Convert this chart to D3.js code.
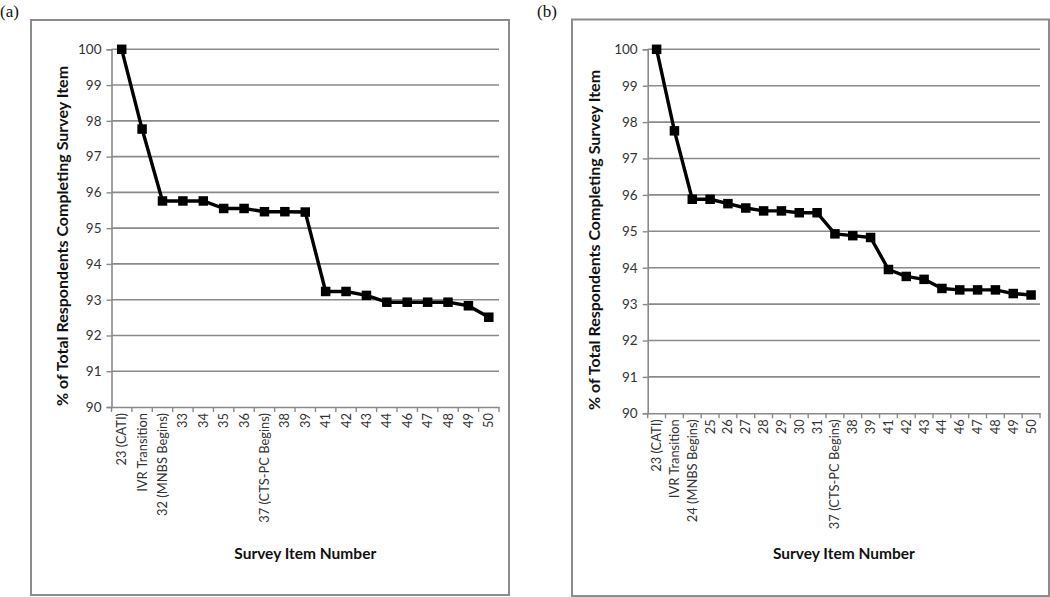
<!DOCTYPE html>
<html><head><meta charset="utf-8">
<script src="https://cdn.jsdelivr.net/npm/d3@7"></script>
<style>
html,body{margin:0;padding:0;background:#fff;}
svg{display:block;}
</style></head>
<body>
<svg id="c" width="1050" height="597"></svg>
<script>
const catsA = ["23 (CATI)","IVR Transition","32 (MNBS Begins)","33","34","35","36","37 (CTS-PC Begins)","38","39","41","42","43","44","46","47","48","49","50"];
const valsA = [100,97.77,95.76,95.76,95.76,95.55,95.55,95.46,95.46,95.45,93.23,93.23,93.12,92.93,92.93,92.93,92.93,92.83,92.51];
const catsB = ["23 (CATI)","IVR Transition","24 (MNBS Begins)","25","26","27","28","29","30","31","37 (CTS-PC Begins)","38","39","41","42","43","44","46","47","48","49","50"];
const valsB = [100,97.76,95.88,95.88,95.76,95.64,95.56,95.56,95.51,95.51,94.93,94.88,94.83,93.95,93.76,93.68,93.43,93.39,93.39,93.39,93.29,93.25];
const yTicks = [90,91,92,93,94,95,96,97,98,99,100];
const yTitle = "% of Total Respondents Completing Survey Item";
const xTitle = "Survey Item Number";
const panelLabels = ["(a)","(b)"];

const svg = d3.select("#c");
const FONT = "Lato, 'Open Sans', sans-serif";

function panel(cfg){
  const g = svg.append("g");
  g.append("rect").attr("x",cfg.frame[0]).attr("y",cfg.frame[1])
    .attr("width",cfg.frame[2]-cfg.frame[0]).attr("height",cfg.frame[3]-cfg.frame[1])
    .attr("fill","none").attr("stroke","#8c8c8c").attr("stroke-width",2);
  svg.append("text").attr("x",cfg.lab[0]).attr("y",cfg.lab[1])
    .attr("font-family","'Liberation Serif','DejaVu Serif',serif").attr("font-size",17)
    .attr("fill","#111").text(cfg.label);

  const x = d3.scaleBand().domain(cfg.cats).range([cfg.left,cfg.right]);
  const y = d3.scaleLinear().domain([90,100]).range([cfg.bottom,cfg.top]);

  g.append("g").selectAll("line").data(yTicks.filter(d=>d>90)).join("line")
    .attr("x1",cfg.left).attr("x2",cfg.right)
    .attr("y1",d=>y(d)).attr("y2",d=>y(d))
    .attr("stroke","#8a8a8a").attr("stroke-width",1.6);

  const ya = g.append("g").attr("transform",`translate(${cfg.left},0)`)
    .call(d3.axisLeft(y).tickValues(yTicks).tickSize(5).tickPadding(5).tickFormat(d3.format("d")));
  ya.select(".domain").attr("stroke","#8a8a8a").attr("stroke-width",1.6);
  ya.selectAll(".tick line").attr("stroke","#8a8a8a").attr("stroke-width",1.4);
  ya.selectAll("text").attr("font-family",FONT).attr("font-size",13.5).attr("fill","#333");

  const xa = g.append("g").attr("transform",`translate(0,${cfg.bottom})`)
    .call(d3.axisBottom(x).tickSize(0).tickPadding(0));
  xa.select(".domain").attr("stroke","#8a8a8a").attr("stroke-width",1.6);
  xa.selectAll(".tick text")
    .attr("font-family",FONT).attr("font-size",12.9).attr("fill","#333")
    .attr("transform","rotate(-90)")
    .attr("text-anchor","end").attr("dy","0.35em").attr("x",-6).attr("y",0);
  const bounds = cfg.cats.map(c=>x(c)).concat([cfg.right]);
  g.append("g").selectAll("line").data(bounds).join("line")
    .attr("x1",d=>d).attr("x2",d=>d).attr("y1",cfg.bottom).attr("y2",cfg.bottom+5)
    .attr("stroke","#8a8a8a").attr("stroke-width",1.4);

  const pts = cfg.cats.map((c,i)=>({c, v:cfg.vals[i]}));
  g.append("path").datum(pts)
    .attr("d", d3.line().x(d=>x(d.c)+x.bandwidth()/2).y(d=>y(d.v)))
    .attr("fill","none").attr("stroke","#000").attr("stroke-width",3.4).attr("stroke-linejoin","round");
  const s = 9.5;
  g.append("g").selectAll("rect").data(pts).join("rect")
    .attr("x",d=>x(d.c)+x.bandwidth()/2-s/2).attr("y",d=>y(d.v)-s/2)
    .attr("width",s).attr("height",s).attr("fill","#000");

  g.append("text").attr("transform",`translate(${cfg.ytx},${cfg.ytc}) rotate(-90)`)
    .attr("text-anchor","middle").attr("font-family",FONT).attr("font-weight","bold")
    .attr("font-size",16).attr("fill","#111").text(yTitle);
  g.append("text").attr("x",(cfg.left+cfg.right)/2).attr("y",559)
    .attr("text-anchor","middle").attr("font-family",FONT).attr("font-weight","bold")
    .attr("font-size",15.5).attr("fill","#111").text(xTitle);
}

panel({cats:catsA, vals:valsA, frame:[31,20,509,595], label:panelLabels[0], lab:[0,17],
  left:111.5, right:499, top:49.3, bottom:407, ytx:68, ytc:236});
panel({cats:catsB, vals:valsB, frame:[572,19.5,1049,596], label:panelLabels[1], lab:[537,17],
  left:647.7, right:1040, top:49.3, bottom:413.3, ytx:600, ytc:240});
</script>
</body></html>
